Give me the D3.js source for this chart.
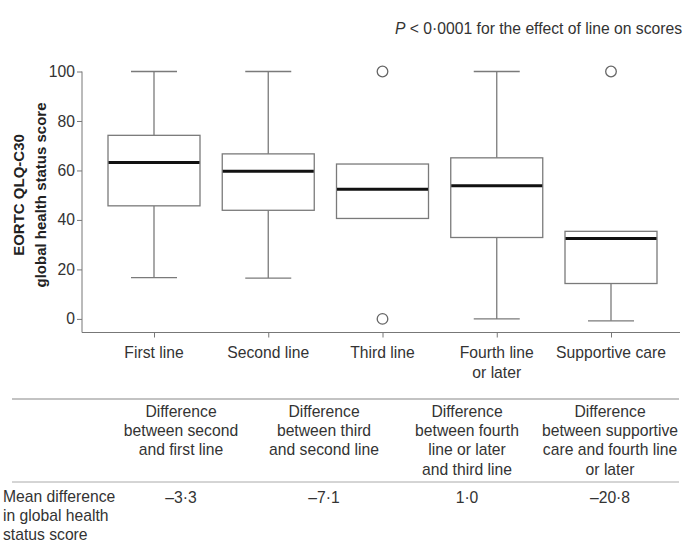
<!DOCTYPE html>
<html>
<head>
<meta charset="utf-8">
<script src="https://cdn.jsdelivr.net/npm/d3@7"></script>
<style>
  body { margin: 0; background: #fff; }
  svg { display: block; font-family: "Liberation Sans", Arial, sans-serif; }
  .tick text { fill: #333; font-size: 15.7px; }
</style>
</head>
<body>
<div id="chart"></div>
<script>
// box plot values
const categories = ["First line", "Second line", "Third line", "Fourth line\nor later", "Supportive care"];
const whiskerHigh = [100, 100, null, 100, null];
const q3 = [74.2, 66.7, 62.6, 65.1, 35.4];
const median = [63.2, 59.7, 52.4, 53.8, 32.5];
const q1 = [45.7, 43.9, 40.6, 32.9, 14.3];
const whiskerLow = [16.7, 16.5, null, 0, -0.8];
const outliers = [[], [], [0, 100], [], [100]];
const yTicks = [0, 20, 40, 60, 80, 100];

// table under the chart
const diffHeaders = [
    ["Difference", "between second", "and first line"],
    ["Difference", "between third", "and second line"],
    ["Difference", "between fourth", "line or later", "and third line"],
    ["Difference", "between supportive", "care and fourth line", "or later"]
];
const meanDiff = ["\u20133\u00b73", "\u20137\u00b71", "1\u00b70", "\u201320\u00b78"];
const rowLabel = ["Mean difference", "in global health", "status score"];

const width = 689, height = 542;
const textColor = "#333";
const fontSize = "15.7px";
const boxStroke = "#7a7a7a";
const boxWidth = 92;
const capWidth = 46;

const svg = d3.select("#chart").append("svg")
    .attr("width", width)
    .attr("height", height);

svg.append("rect").attr("width", width).attr("height", height).attr("fill", "#fff");

const data = categories.map((c, i) => ({
    cat: c, hi: whiskerHigh[i], q3: q3[i], med: median[i], q1: q1[i], lo: whiskerLow[i], out: outliers[i]
}));

const x = d3.scalePoint()
    .domain(categories)
    .range([154, 611]);

const y = d3.scaleLinear()
    .domain([-5.5, 100])
    .range([332.5, 71.5]);

// y axis
const yAxis = svg.append("g")
    .attr("transform", "translate(82,0)")
    .call(d3.axisLeft(y).tickValues(yTicks).tickSize(5).tickPadding(2));
yAxis.select(".domain").remove();
yAxis.selectAll(".tick line").attr("stroke", "#777");
svg.append("line")
    .attr("x1", 82).attr("x2", 82)
    .attr("y1", y(100)).attr("y2", y(-5.5))
    .attr("stroke", "#777");

// x axis
const xAxis = svg.append("g")
    .attr("transform", "translate(0," + y(-5.5) + ")")
    .call(d3.axisBottom(x).tickSize(5).tickFormat(""));
xAxis.select(".domain").remove();
xAxis.selectAll(".tick line").attr("stroke", "#777");
svg.append("line")
    .attr("x1", 82).attr("x2", 680)
    .attr("y1", y(-5.5)).attr("y2", y(-5.5))
    .attr("stroke", "#777");

svg.selectAll(".cat-label")
    .data(categories)
    .join("text")
    .attr("class", "cat-label")
    .attr("text-anchor", "middle")
    .attr("fill", textColor)
    .style("font-size", fontSize)
    .each(function (d) {
        d3.select(this).selectAll("tspan")
            .data(d.split("\n"))
            .join("tspan")
            .attr("x", x(d))
            .attr("y", (t, j) => 358 + j * 19.5)
            .text(t => t);
    });

// whiskers
svg.selectAll(".whisker-hi")
    .data(data.filter(d => d.hi != null))
    .join("line")
    .attr("x1", d => x(d.cat)).attr("x2", d => x(d.cat))
    .attr("y1", d => y(d.hi)).attr("y2", d => y(d.q3))
    .attr("stroke", boxStroke).attr("stroke-width", 1.3);
svg.selectAll(".whisker-lo")
    .data(data.filter(d => d.lo != null))
    .join("line")
    .attr("x1", d => x(d.cat)).attr("x2", d => x(d.cat))
    .attr("y1", d => y(d.q1)).attr("y2", d => y(d.lo))
    .attr("stroke", boxStroke).attr("stroke-width", 1.3);
svg.selectAll(".cap-hi")
    .data(data.filter(d => d.hi != null))
    .join("line")
    .attr("x1", d => x(d.cat) - capWidth / 2).attr("x2", d => x(d.cat) + capWidth / 2)
    .attr("y1", d => y(d.hi)).attr("y2", d => y(d.hi))
    .attr("stroke", boxStroke).attr("stroke-width", 1.3);
svg.selectAll(".cap-lo")
    .data(data.filter(d => d.lo != null))
    .join("line")
    .attr("x1", d => x(d.cat) - capWidth / 2).attr("x2", d => x(d.cat) + capWidth / 2)
    .attr("y1", d => y(d.lo)).attr("y2", d => y(d.lo))
    .attr("stroke", boxStroke).attr("stroke-width", 1.3);

// boxes
svg.selectAll(".box")
    .data(data)
    .join("rect")
    .attr("class", "box")
    .attr("x", d => x(d.cat) - boxWidth / 2)
    .attr("width", boxWidth)
    .attr("y", d => y(d.q3))
    .attr("height", d => y(d.q1) - y(d.q3))
    .attr("fill", "#fff")
    .attr("stroke", boxStroke)
    .attr("stroke-width", 1.3);

svg.selectAll(".median")
    .data(data)
    .join("line")
    .attr("x1", d => x(d.cat) - boxWidth / 2 + 0.5).attr("x2", d => x(d.cat) + boxWidth / 2 - 0.5)
    .attr("y1", d => y(d.med)).attr("y2", d => y(d.med))
    .attr("stroke", "#111").attr("stroke-width", 3);

// outliers
svg.selectAll(".outlier")
    .data(data.flatMap(d => d.out.map(v => ({cat: d.cat, v}))))
    .join("circle")
    .attr("cx", d => x(d.cat))
    .attr("cy", d => y(d.v))
    .attr("r", 5.3)
    .attr("fill", "none")
    .attr("stroke", "#666")
    .attr("stroke-width", 1.3);

// y title
const yTitle = svg.append("text")
    .attr("transform", "translate(0,195) rotate(-90)")
    .attr("text-anchor", "middle")
    .attr("fill", "#222")
    .style("font-size", "15px")
    .style("font-weight", "bold");
yTitle.append("tspan").attr("x", 0).attr("y", 24).text("EORTC QLQ-C30");
yTitle.append("tspan").attr("x", 0).attr("y", 45.5).text("global health status score");

// p value note
const note = svg.append("text")
    .attr("x", 395).attr("y", 33.5)
    .attr("fill", textColor)
    .style("font-size", fontSize);
note.append("tspan").style("font-style", "italic").text("P");
note.append("tspan").text(" < 0\u00b70001 for the effect of line on scores");

// table
const colX = d3.scalePoint()
    .domain(d3.range(diffHeaders.length))
    .range([181, 610]);

svg.append("line")
    .attr("x1", 12).attr("x2", 679).attr("y1", 399).attr("y2", 399)
    .attr("stroke", "#888").attr("stroke-width", 1.2);
svg.append("line")
    .attr("x1", 12).attr("x2", 679).attr("y1", 482).attr("y2", 482)
    .attr("stroke", "#aaa").attr("stroke-width", 1);

svg.selectAll(".diff-head")
    .data(diffHeaders)
    .join("text")
    .attr("class", "diff-head")
    .attr("text-anchor", "middle")
    .attr("fill", textColor)
    .style("font-size", fontSize)
    .each(function (d, i) {
        d3.select(this).selectAll("tspan")
            .data(d)
            .join("tspan")
            .attr("x", colX(i))
            .attr("y", (t, j) => 417 + j * 19.2)
            .text(t => t);
    });

svg.selectAll(".diff-val")
    .data(meanDiff)
    .join("text")
    .attr("class", "diff-val")
    .attr("x", (d, i) => colX(i))
    .attr("y", 502.5)
    .attr("text-anchor", "middle")
    .attr("fill", textColor)
    .style("font-size", fontSize)
    .text(d => d);

svg.append("text")
    .attr("fill", textColor)
    .style("font-size", fontSize)
    .selectAll("tspan")
    .data(rowLabel)
    .join("tspan")
    .attr("x", 3)
    .attr("y", (d, i) => 502 + i * 19)
    .text(d => d);
</script>
</body>
</html>
